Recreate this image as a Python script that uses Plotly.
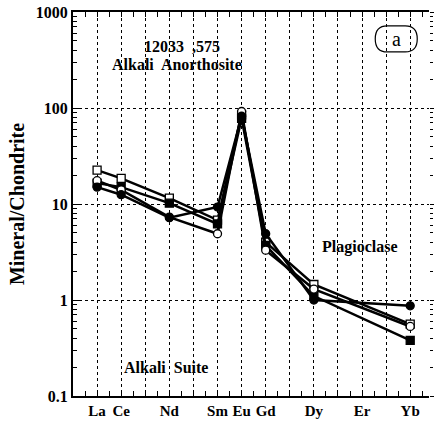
import plotly.graph_objects as go

# REE positions (La..Yb), index positions on the x axis
elements = ["La", "Ce", "Pr", "Nd", "Pm", "Sm", "Eu", "Gd", "Tb", "Dy", "Ho", "Er", "Tm", "Yb"]
tick_labels = ["La", "Ce", "", "Nd", "", "Sm", "Eu", "Gd", "", "Dy", "", "Er", "", "Yb"]
measured = ["La", "Ce", "Nd", "Sm", "Eu", "Gd", "Dy", "Yb"]

open_square = [22.5, 18.5, 11.5, 6.8, 85, 4.0, 1.45, 0.56]
filled_square = [16.5, 15.0, 10.2, 6.2, 78, 3.7, 1.1, 0.38]
open_circle = [17.5, 14.0, 7.3, 4.9, 92, 3.3, 1.3, 0.53]
filled_circle = [15.0, 12.5, 7.2, 9.3, 82, 4.9, 1.0, 0.87]

series = [
    ("open square", open_square, "square-open"),
    ("filled square", filled_square, "square"),
    ("open circle", open_circle, "circle-open"),
    ("filled circle", filled_circle, "circle"),
]

xi = [elements.index(e) for e in measured]
FONT = "Liberation Serif"

fig = go.Figure()
for name, vals, sym in series:
    is_open = sym.endswith("open")
    fig.add_trace(go.Scatter(
        x=xi, y=vals, mode="lines+markers", name=name,
        line=dict(color="black", width=2.5),
        marker=dict(symbol=sym.replace("-open", ""), size=8,
                    color="white" if is_open else "black",
                    line=dict(color="black", width=1.3)),
        showlegend=False,
    ))

# invisible trace for the right-side tick axis
fig.add_trace(go.Scatter(x=[0], y=[1], yaxis="y2", mode="markers",
                         marker=dict(opacity=0), showlegend=False, hoverinfo="skip"))

minor_y = [m * 10 ** d for d in range(-1, 3) for m in range(2, 10)]
half_x = [i + 0.5 for i in range(-1, 14)]

fig.update_layout(
    width=437, height=426,
    margin=dict(l=73, r=4, t=10, b=30),
    paper_bgcolor="white", plot_bgcolor="white",
    font=dict(family=FONT, color="black"),
    xaxis=dict(
        range=[-1, 13.78], tickmode="array",
        tickvals=list(range(len(elements))), ticktext=tick_labels,
        showgrid=True, gridcolor="black", griddash="dot", gridwidth=1,
        showline=True, linecolor="black", linewidth=2, mirror="allticks",
        ticks="inside", ticklen=5, tickcolor="black", tickwidth=1,
        tickfont=dict(family=FONT, size=15, weight="bold"),
        minor=dict(tickvals=half_x, ticks="inside", ticklen=4, tickcolor="black", showgrid=False),
        zeroline=False,
    ),
    yaxis=dict(
        type="log", range=[-1, 3],
        tickmode="array", tickvals=[0.1, 1, 10, 100, 1000],
        ticktext=["0.1", "1", "10", "100", "1000"],
        showgrid=True, gridcolor="black", griddash="dot", gridwidth=1,
        showline=True, linecolor="black", linewidth=2,
        ticks="inside", ticklen=7, tickcolor="black", tickwidth=1,
        tickfont=dict(family=FONT, size=16, weight="bold"),
        minor=dict(tickvals=minor_y, ticks="inside", ticklen=4, tickcolor="black", showgrid=False),
        title=dict(text="Mineral/Chondrite", font=dict(family=FONT, size=20, weight="bold"), standoff=6),
        zeroline=False,
    ),
    yaxis2=dict(
        type="log", range=[-1, 3], overlaying="y", side="right",
        tickmode="array", tickvals=[0.1, 1, 10, 100, 1000], showticklabels=False,
        showgrid=False, showline=False, ticks="outside", ticklen=4, tickcolor="black",
        minor=dict(tickvals=minor_y, ticks="outside", ticklen=3, tickcolor="black", showgrid=False),
        zeroline=False,
    ),
)

ann_font = dict(family=FONT, size=16, color="black", weight="bold")
notes = [
    ("12033  ,575", 0.306, 0.909),
    ("Alkali  Anorthosite", 0.292, 0.863),
    ("Plagioclase", 0.806, 0.389),
    ("Alkali  Suite", 0.261, 0.075),
]
for text, x, y in notes:
    fig.add_annotation(text=text, x=x, y=y, xref="paper", yref="paper",
                       xanchor="center", yanchor="middle",
                       showarrow=False, font=ann_font)

fig.add_annotation(text="a", x=0.908, y=0.93, xref="paper", yref="paper",
                   xanchor="center", yanchor="middle",
                   showarrow=False, font=dict(family=FONT, size=20, color="black"))
fig.add_shape(type="path", xref="paper", yref="paper", xsizemode="pixel", ysizemode="pixel",
              xanchor=0.908, yanchor=0.93,
              path="M -9,13 L 9,13 Q 21,13 21,0 Q 21,-13 9,-13 L -9,-13 Q -21,-13 -21,0 Q -21,13 -9,13 Z",
              line=dict(color="black", width=1.2))

fig.write_html("out.html")
